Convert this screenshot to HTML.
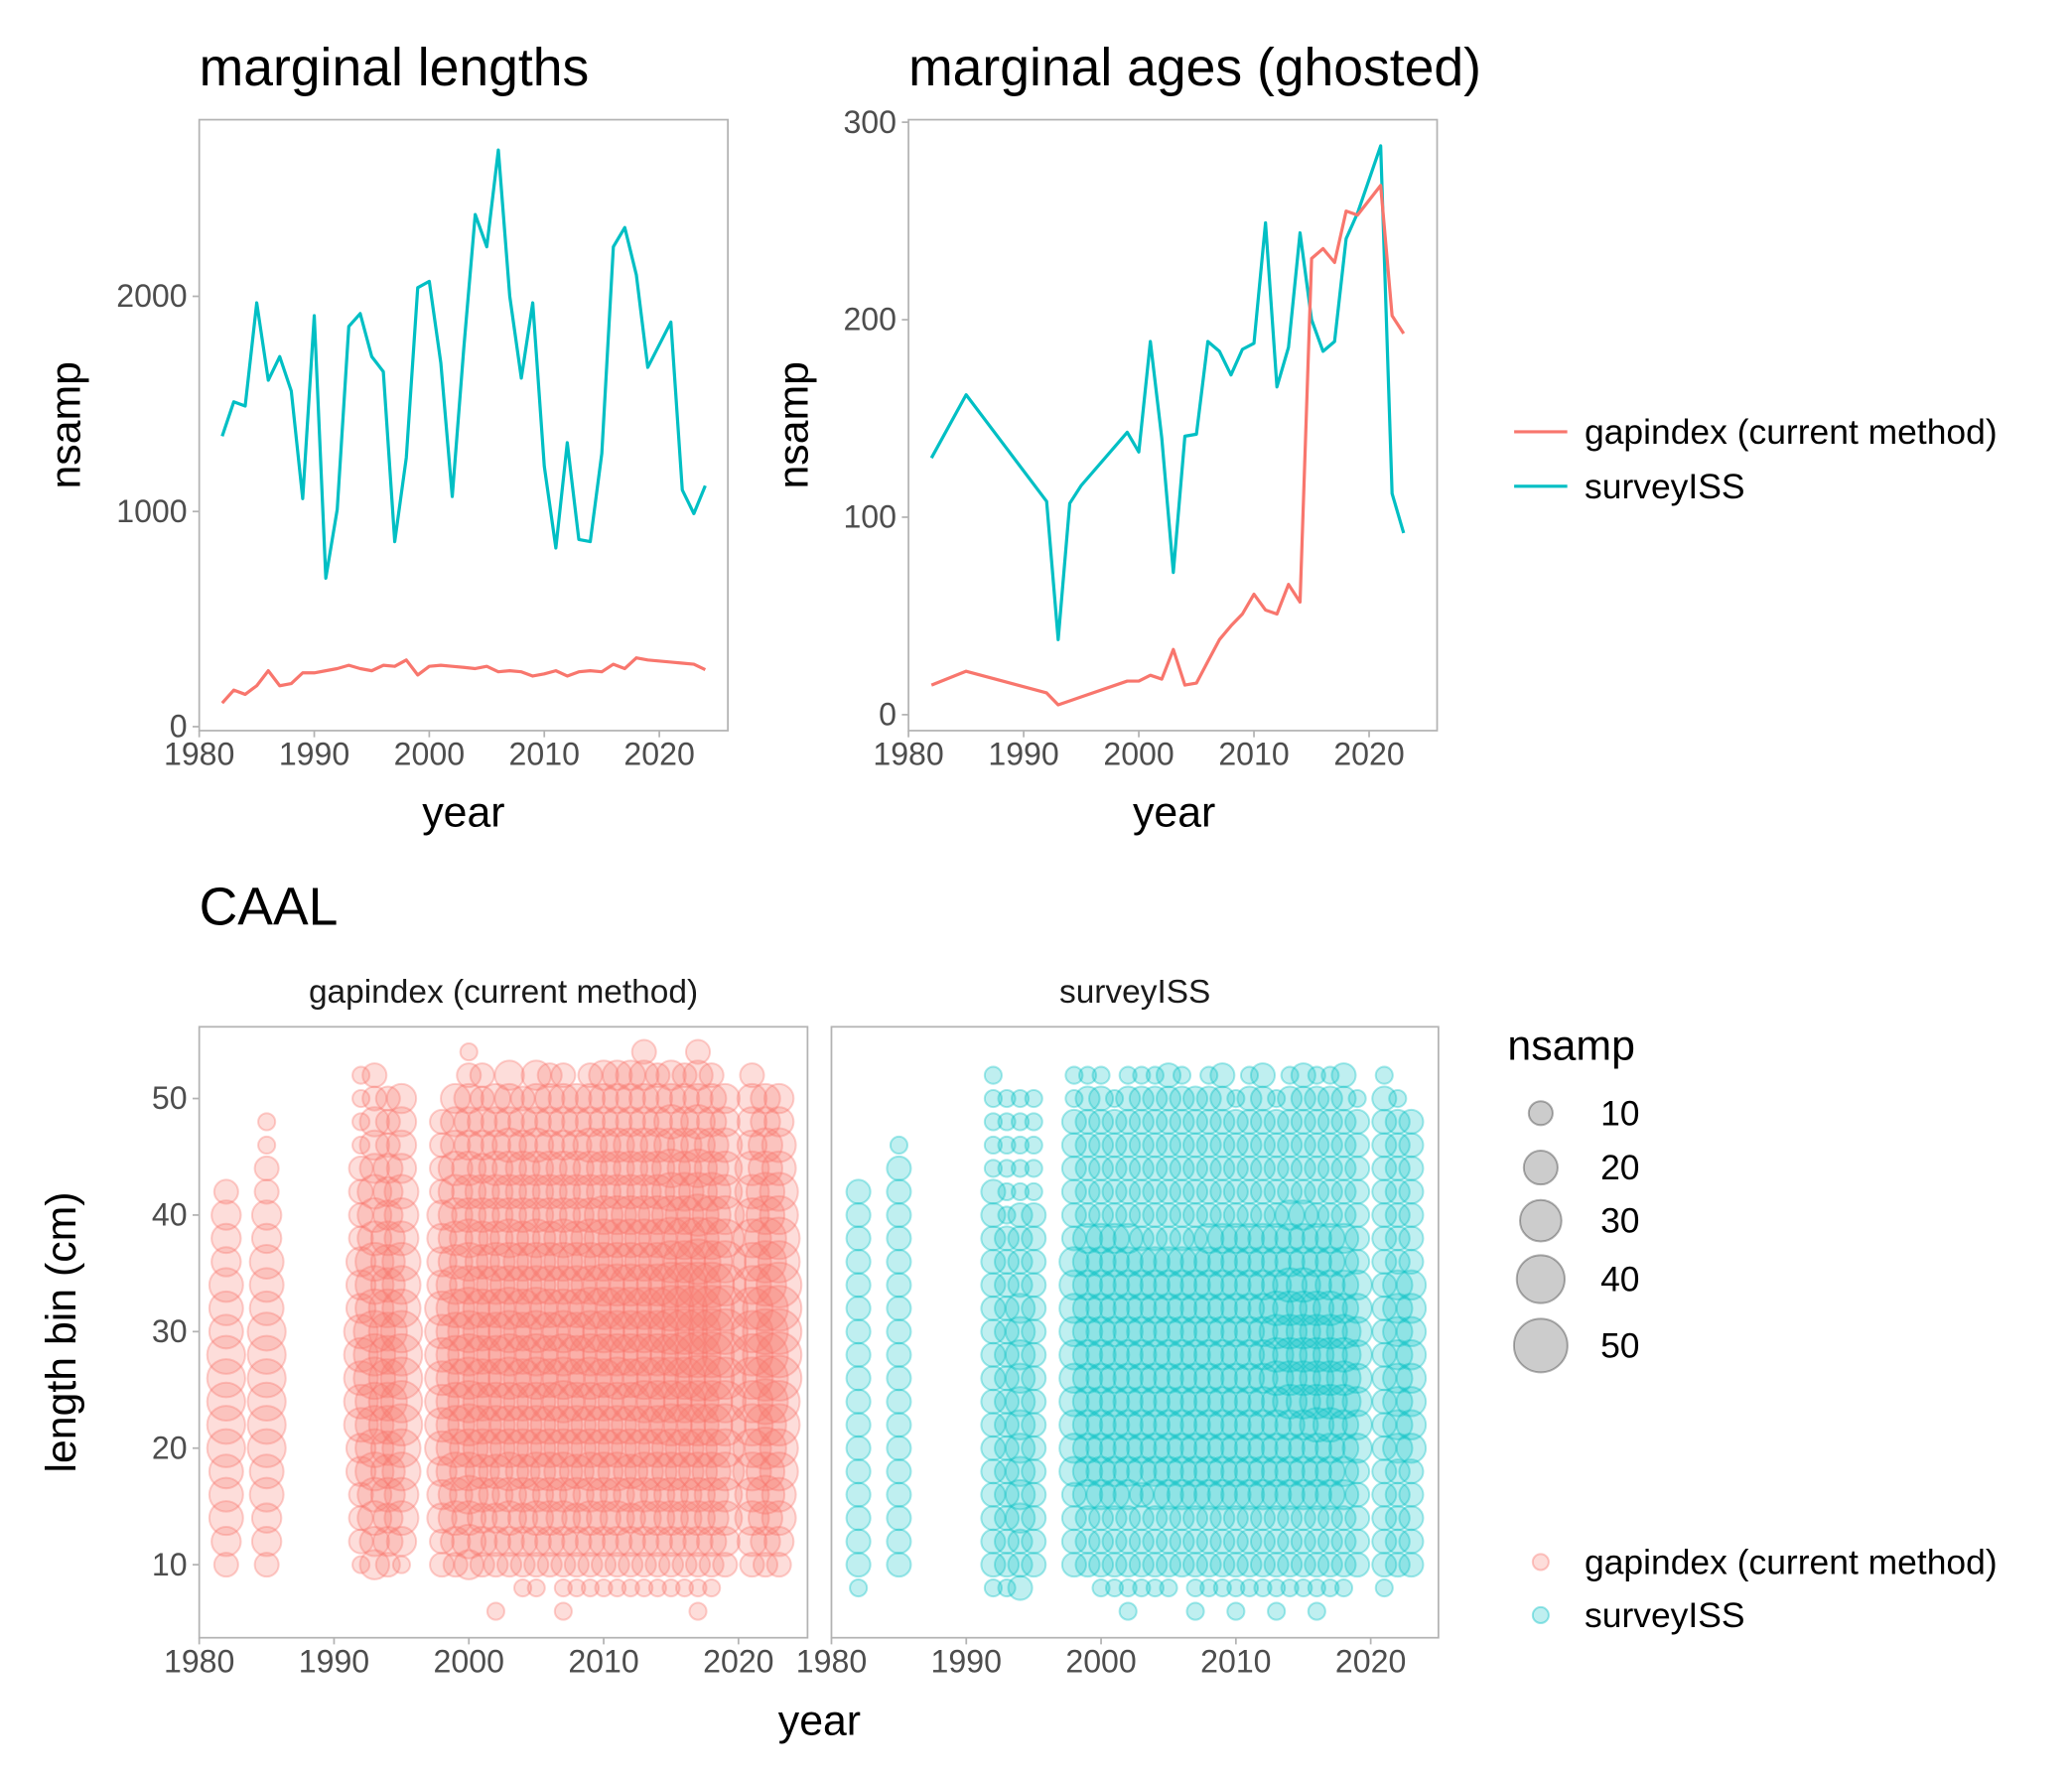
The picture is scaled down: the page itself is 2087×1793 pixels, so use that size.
<!DOCTYPE html>
<html><head><meta charset="utf-8"><style>
html,body{margin:0;padding:0;background:#fff}
svg{display:block;font-family:"Liberation Sans",Arial,sans-serif}
</style></head><body>
<svg id="chart" width="2087" height="1793" viewBox="0 0 1560 1340" xmlns="http://www.w3.org/2000/svg">
<rect width="1560" height="1340" fill="#fff"/>
<g id="root"></g>
</svg>
<script>
// ---------- data ----------
const lenYearsISS = [1982,1983,1984,1985,1986,1987,1988,1989,1990,1991,1992,1993,1994,1995,1996,1997,1998,1999,2000,2001,2002,2003,2004,2005,2006,2007,2008,2009,2010,2011,2012,2013,2014,2015,2016,2017,2018,2019,2021,2022,2023,2024];
const lenISS = [1350,1510,1490,1970,1610,1720,1560,1060,1910,690,1010,1860,1920,1720,1650,860,1250,2040,2070,1690,1070,1760,2380,2230,2680,2000,1620,1970,1210,830,1320,870,860,1270,2230,2320,2100,1670,1880,1100,990,1120];
const lenGap = [110,170,150,190,260,190,200,250,250,260,270,285,270,260,285,280,310,240,280,285,280,275,270,280,255,260,255,235,245,260,235,255,260,255,290,270,320,310,300,295,290,265];
const ageYears = [1982,1985,1992,1993,1994,1995,1999,2000,2001,2002,2003,2004,2005,2006,2007,2008,2009,2010,2011,2012,2013,2014,2015,2016,2017,2018,2019,2021,2022,2023];
const ageISS = [130,162,108,38,107,116,143,133,189,140,72,141,142,189,184,172,185,188,249,166,186,244,200,184,189,241,254,288,112,92];
const ageGap = [15,22,11,5,7,9,17,17,20,18,33,15,16,27,38,45,51,61,53,51,66,57,231,236,229,255,253,268,202,193];
const caalYears = [1982,1985,1992,1993,1994,1995,1998,1999,2000,2001,2002,2003,2004,2005,2006,2007,2008,2009,2010,2011,2012,2013,2014,2015,2016,2017,2018,2019,2021,2022,2023];
// each char = bin 6,8,10,...; digit d => nsamp = 5*d; '.' = absent
const caalGap = [
"..23444555554443332","..23344555555444332211","..1222334444433322221111","..3344555566655544433322","..233444555555444333222","..134455666665554443333",
"..22333444444433332222","..234455555555544444333","..34455566666655544433321","..2334455555555444433322","1.233445555555554444333","..2344555566665554444333",
".1233445555555554444332",".12344555566665554444333","..2344555555555544443332","112344555666655554443332",".1233445555555554444333",".12344555566665554444332",
".12344555556666555444333",".12344555566666555444333",".12334455556666555444333",".123445556666665554443332",".12344555666666555444332",".12344556666777665554433",
".12344556667777665544332","1123445566777777665544332",".12344556677777665544332","..234455666777665544433","..2344556666665554443332","..234556677777666554433","..234455667777766554433"];
const caalISS = [
".122222222222222222","..2222222222222222221",".12222222222222222211111",".1222222222222222111111",".2223333333333222211111","..222222222222222211111",
"..2222333333333322222211","..2223333333333332222221",".12223333333333332222221",".1222333333333333222221","112223333333333332222221",".12222333333333322222221",
".12223333333333322222221",".12223333333333322222222","..2223333333333322222221","11222333333333332222222",".12223333333333332222221",".12223333333333332222222",
"11222333333333333222221",".12223333333333332222221",".12223333333333332222222","11222333334444333222221",".12223333444444333222221",".12223333444444333222222",
"112223334444443332222221",".12223334444443332222221",".12223333444433332222222","..222223333333322222221",".12222222222222222222221","..222223333333322222221","..22222333333332222222"];
const sizeLegend = [10,20,30,40,50];

const RED="#F8766D", CYAN="#00BFC4", GREY="#b3b3b3", TXT="#4d4d4d";
const NS="http://www.w3.org/2000/svg";
const root=document.getElementById('root');
function mk(tag,attrs,parent){const e=document.createElementNS(NS,tag);for(const k in attrs)e.setAttribute(k,attrs[k]);(parent||root).appendChild(e);return e;}
function txt(x,y,s,size,opts){const e=mk('text',Object.assign({x:x,y:y,'font-size':size,fill:'#000'},opts||{}));e.textContent=s;return e;}

function panel(name,x0,x1,y0,y1){
  const r=mk('rect',{x:x0,y:y0,width:x1-x0,height:y1-y0,fill:'none',stroke:GREY,'stroke-width':1.3});
  
  
}
function xAxis(name,sx,yb,years){
  const g=mk('g',{});
  
  
  years.forEach(v=>{
    mk('line',{x1:sx(v),x2:sx(v),y1:yb,y2:yb+5,stroke:GREY,'stroke-width':1.3},g);
    g.appendChild(txt(sx(v),yb+26,String(v),24,{fill:TXT,'text-anchor':'middle'}));
  });
}
function yAxis(name,sy,xl,ticks){
  const g=mk('g',{});
  
  
  ticks.forEach(v=>{
    mk('line',{x1:xl-5,x2:xl,y1:sy(v),y2:sy(v),stroke:GREY,'stroke-width':1.3},g);
    g.appendChild(txt(xl-9,sy(v)+8,String(v),24,{fill:TXT,'text-anchor':'end'}));
  });
}
function line(name,xs,ys,sx,sy,color){
  const d=xs.map((v,i)=>(i?'L':'M')+sx(v).toFixed(1)+','+sy(ys[i]).toFixed(1)).join(' ');
  const p=mk('path',{d:d,fill:'none',stroke:color,'stroke-width':2.4,'stroke-linejoin':'round'});
  
  
}
const decades=[1980,1990,2000,2010,2020];

{
  const sx=v=>150+(v-1980)*8.66, sy=v=>547-v*0.162;
  panel('lengths',150,548,90,550);
  xAxis('lengths',sx,550,decades);
  yAxis('lengths',sy,150,[0,1000,2000]);
  line('lengths-surveyiss-line',lenYearsISS,lenISS,sx,sy,CYAN);
  line('lengths-gapindex-line',lenYearsISS,lenGap,sx,sy,RED);
  const t1=txt(150,64,'marginal lengths',40);
  const t2=txt(349,622,'year',32,{'text-anchor':'middle'});
  const t3=txt(60,320,'nsamp',32,{'text-anchor':'middle',transform:'rotate(-90 60 320)'});
}
{
  const sx=v=>684+(v-1980)*8.67, sy=v=>538-v*1.487;
  panel('ages',684,1082,90,550);
  xAxis('ages',sx,550,decades);
  yAxis('ages',sy,684,[0,100,200,300]);
  line('ages-surveyiss-line',ageYears,ageISS,sx,sy,CYAN);
  line('ages-gapindex-line',ageYears,ageGap,sx,sy,RED);
  const t1=txt(684,64,'marginal ages (ghosted)',40);
  const t2=txt(884,622,'year',32,{'text-anchor':'middle'});
  const t3=txt(608,320,'nsamp',32,{'text-anchor':'middle',transform:'rotate(-90 608 320)'});
}
{
  const g=mk('g',{});
  
  
  mk('line',{x1:1140,x2:1180,y1:325,y2:325,stroke:RED,'stroke-width':2.4},g);
  mk('line',{x1:1140,x2:1180,y1:366,y2:366,stroke:CYAN,'stroke-width':2.4},g);
  g.appendChild(txt(1193,334,'gapindex (current method)',26.5));
  g.appendChild(txt(1193,375,'surveyISS',26.5));
}

const rOf=n=>2.85*Math.sqrt(n);
{
  const t=txt(150,696,'CAAL',40);
  const defs=mk('defs',{});
  const panels=[
    {name:'caal-gapindex',x0:150,x1:608,strip:'gapindex (current method)',data:caalGap,color:RED},
    {name:'caal-surveyiss',x0:626,x1:1083,strip:'surveyISS',data:caalISS,color:CYAN}];
  const sy=v=>1178-(v-10)*8.775;
  panels.forEach((p,pi)=>{
    const sx=v=>p.x0+(v-1980)*10.15;
    const cp=mk('clipPath',{id:'clip'+pi},defs);
    mk('rect',{x:p.x0,y:773,width:p.x1-p.x0,height:460},cp);
    const g=mk('g',{'clip-path':'url(#clip'+pi+')'});
    
    
    caalYears.forEach((yr,yi)=>{
      const s=p.data[yi];
      for(let i=0;i<s.length;i++){
        const ch=s[i]; if(ch==='.')continue;
        const n=5*parseInt(ch,10), bin=6+2*i;
        const c=mk('circle',{cx:sx(yr).toFixed(1),cy:sy(bin).toFixed(1),r:rOf(n).toFixed(1),fill:p.color,'fill-opacity':0.25,stroke:p.color,'stroke-opacity':0.35,'stroke-width':1.5},g);
        
        
      }
    });
    panel(p.name,p.x0,p.x1,773,1233);
    const st=txt((p.x0+p.x1)/2,755,p.strip,25,{'text-anchor':'middle',fill:'#1a1a1a'});
    
    
    xAxis(p.name,sx,1233,decades);
    if(pi===0) yAxis(p.name,sy,150,[10,20,30,40,50]);
  });
  const t2=txt(617,1306,'year',32,{'text-anchor':'middle'});
  const t3=txt(57,1003,'length bin (cm)',32,{'text-anchor':'middle',transform:'rotate(-90 57 1003)'});
}
{
  const g=mk('g',{});
  
  
  g.appendChild(txt(1135,798,'nsamp',32));
  const ys=[838,879,919,963,1013];
  sizeLegend.forEach((n,i)=>{
    mk('circle',{cx:1160,cy:ys[i],r:rOf(n),fill:'#000','fill-opacity':0.2,stroke:'#000','stroke-opacity':0.3,'stroke-width':1.5},g);
    g.appendChild(txt(1205,ys[i]+9,String(n),26.5));
  });
}
{
  const g=mk('g',{});
  
  
  mk('circle',{cx:1160,cy:1176,r:6,fill:RED,'fill-opacity':0.25,stroke:RED,'stroke-opacity':0.4,'stroke-width':1.5},g);
  mk('circle',{cx:1160,cy:1216,r:6,fill:CYAN,'fill-opacity':0.25,stroke:CYAN,'stroke-opacity':0.4,'stroke-width':1.5},g);
  g.appendChild(txt(1193,1185,'gapindex (current method)',26.5));
  g.appendChild(txt(1193,1225,'surveyISS',26.5));
}
</script>
</body></html>
